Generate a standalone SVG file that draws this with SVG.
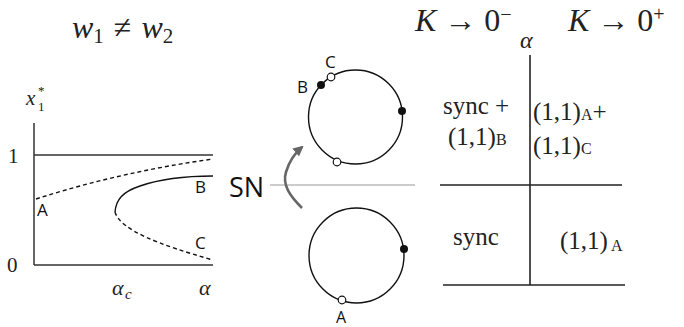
<svg xmlns="http://www.w3.org/2000/svg" width="684" height="327" viewBox="0 0 684 327">
<defs>
<style>
.m{font-family:"Liberation Serif","DejaVu Serif",serif;fill:#222}
.i{font-style:italic}
.s{font-family:"Open Sans","Liberation Sans",sans-serif;fill:#111}
.ax{stroke:#333;stroke-width:1.5;fill:none}
.cv{stroke:#111;stroke-width:1.4;fill:none}
.ds{stroke:#111;stroke-width:1.4;fill:none;stroke-dasharray:4 3}
.ring{stroke:#111;stroke-width:1.4;fill:none}
.fd{fill:#111}
.od{fill:#fff;stroke:#111;stroke-width:1.2}
.tb{stroke:#222;stroke-width:1.6}
</style>
<marker id="ah" viewBox="0 0 10 10" refX="8" refY="5" markerWidth="4" markerHeight="4" orient="auto-start-reverse">
<path d="M0,0 L10,5 L0,10 Z" fill="#666"/>
</marker>
</defs>

<g id="title">
<text class="m" x="72" y="38" font-size="32"><tspan class="i">w</tspan><tspan font-size="21" dy="5">1</tspan><tspan dy="-5" dx="10">≠</tspan><tspan class="i" dx="10">w</tspan><tspan font-size="21" dy="5">2</tspan></text>
</g>

<g id="plot">
<line class="ax" x1="34" y1="123" x2="34" y2="265"/>
<line class="ax" x1="34" y1="155" x2="213" y2="155"/>
<line class="ax" x1="34" y1="265" x2="213" y2="265"/>
<path class="ds" d="M36,199 Q120,172 213,159"/>
<path class="cv" d="M115,212 C116,200 122,192 140,186 C160,179 185,176 213,176"/>
<path class="ds" d="M115,212 C120,230 160,245 213,260"/>
<text class="m i" x="26" y="105" font-size="21">x</text>
<text class="m" x="38" y="111" font-size="13">1</text>
<text class="m" x="38" y="95" font-size="13">*</text>
<text class="m" x="8" y="163" font-size="21">1</text>
<text class="m" x="7" y="272" font-size="21">0</text>
<text class="m i" x="112" y="295" font-size="22">α</text>
<text class="m i" x="125" y="299" font-size="15">c</text>
<text class="m i" x="199" y="295" font-size="22">α</text>
<text class="s" x="37" y="216" font-size="17">A</text>
<text class="s" x="195" y="193" font-size="17">B</text>
<text class="s" x="195" y="249" font-size="17">C</text>
</g>

<g id="sn">
<text class="s" x="229" y="197" font-size="27">SN</text>
<line x1="270" y1="185" x2="415" y2="185" stroke="#999" stroke-width="1"/>
</g>

<g id="connectors">
<path d="M302,208 C290,196 282,185 286,172 C289,162 295,153 302,147" fill="none" stroke="#666" stroke-width="2.6" marker-end="url(#ah)"/>
</g>

<g id="circle-top">
<circle class="ring" cx="355.5" cy="117" r="47"/>
<circle class="fd" cx="402" cy="111" r="4"/>
<circle class="fd" cx="321" cy="85" r="4"/>
<circle class="od" cx="331" cy="77" r="3.8"/>
<circle class="od" cx="337" cy="162" r="3.8"/>
<text class="s" x="297" y="93" font-size="17">B</text>
<text class="s" x="325" y="68" font-size="17">C</text>
</g>

<g id="circle-bottom">
<circle class="ring" cx="356.5" cy="255.5" r="47.5"/>
<circle class="fd" cx="404" cy="249" r="4"/>
<circle class="od" cx="342" cy="300" r="3.8"/>
<text class="s" x="336" y="323" font-size="16">A</text>
</g>

<g id="table">
<text class="m" x="415" y="31" font-size="32"><tspan class="i">K</tspan><tspan dx="8">→</tspan><tspan dx="8">0</tspan><tspan font-size="20" dy="-10">−</tspan></text>
<text class="m" x="568" y="31" font-size="32"><tspan class="i">K</tspan><tspan dx="8">→</tspan><tspan dx="8">0</tspan><tspan font-size="20" dy="-10">+</tspan></text>
<text class="m i" x="520" y="48" font-size="24">α</text>
<line class="tb" x1="530" y1="55" x2="530" y2="285"/>
<line class="tb" x1="440" y1="185" x2="622" y2="185"/>
<line class="tb" x1="443" y1="285" x2="625" y2="285"/>
<text class="m" x="443" y="114" font-size="25">sync +</text>
<text class="m" x="448" y="145" font-size="25">(1,1)<tspan font-size="16">B</tspan></text>
<text class="m" x="533" y="120" font-size="25">(1,1)<tspan font-size="16">A</tspan>+</text>
<text class="m" x="533" y="154" font-size="25">(1,1)<tspan font-size="16">C</tspan></text>
<text class="m" x="453" y="245" font-size="25">sync</text>
<text class="m" x="560" y="249" font-size="25">(1,1)<tspan font-size="16" dx="3" dy="2">A</tspan></text>
</g>
</svg>
